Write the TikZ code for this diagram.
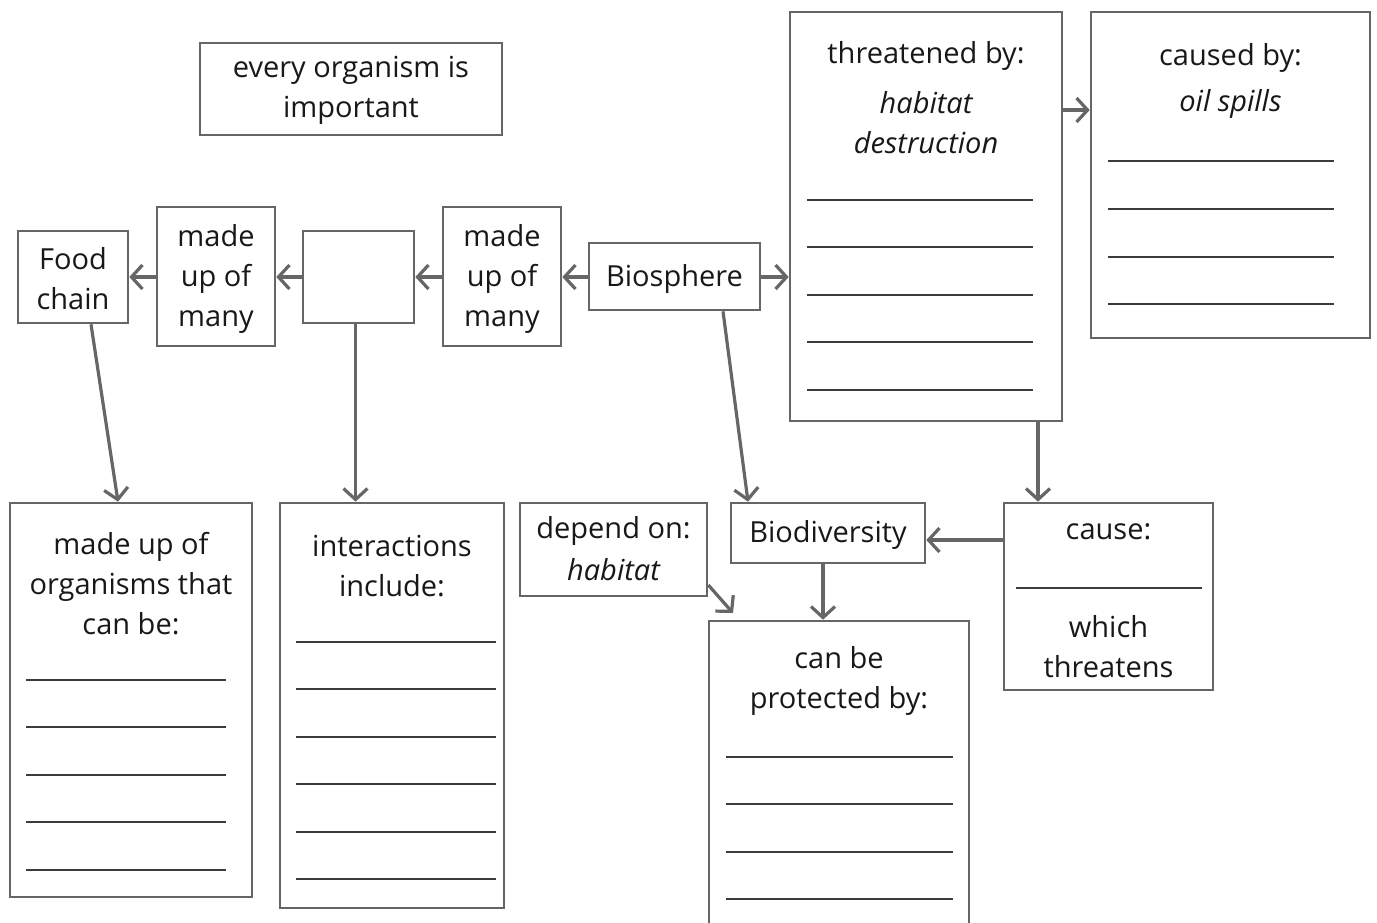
\documentclass[tikz,border=0pt]{standalone}
\usepackage{fontspec}
\setmainfont{Open Sans}
\usetikzlibrary{arrows.meta}
\definecolor{lg}{HTML}{666666}
\definecolor{tc}{HTML}{1A1718}
\begin{document}
\begin{tikzpicture}[x=1pt,y=-1pt,
  bx/.style={draw=lg, line width=2.6pt, inner sep=0pt, fill=white},
  tx/.style={text=tc, font=\fontsize{29}{40}\selectfont, align=center, inner sep=0pt},
  it/.style={tx, font=\fontsize{29}{40}\selectfont\itshape},
  wl/.style={draw=tc!85, line width=1.4pt},
  ar/.style={draw=lg, line width=3.2pt, -{Straight Barb[length=11pt,width=24pt,line width=3.2pt]}}]
\useasboundingbox (0,0) rectangle (1377,922);
% boxes
\node[bx, minimum width=302pt, minimum height=92pt] (every) at (351,89) {};
\node[bx, minimum width=110pt, minimum height=92pt] (food) at (73,277) {};
\node[bx, minimum width=118pt, minimum height=139pt] (madeL) at (216,276.5) {};
\node[bx, minimum width=111pt, minimum height=92pt] (empty) at (358.5,277) {};
\node[bx, minimum width=118pt, minimum height=139pt] (madeR) at (502,276.5) {};
\node[bx, minimum width=171pt, minimum height=67pt] (bios) at (674.5,276.5) {};
\node[bx, minimum width=272pt, minimum height=409pt] (threat) at (926,216.5) {};
\node[bx, minimum width=279pt, minimum height=326pt] (caused) at (1230.5,175) {};
\node[bx, minimum width=242pt, minimum height=394pt] (org) at (131,700) {};
\node[bx, minimum width=224pt, minimum height=405pt] (inter) at (392,705.5) {};
\node[bx, minimum width=187pt, minimum height=93pt] (depend) at (613.5,549.5) {};
\node[bx, minimum width=194pt, minimum height=60pt] (biodiv) at (828,533) {};
\node[bx, minimum width=209pt, minimum height=187pt] (cause) at (1108.5,596.5) {};
\node[bx, minimum width=260pt, minimum height=319pt] (protect) at (839,780.5) {};
% texts
\node[tx] (e1) at (351,90) {every organism is\\important};
\node[tx] (f1) at (73,279) {Food\\chain};
\node[tx] (m1) at (216,279) {made\\up of\\many};
\node[tx] (m2) at (502,279) {made\\up of\\many};
\node[tx] (b1) at (674.5,278.5) {Biosphere};
\node[tx] (g1) at (613.5,531) {depend on:};
\node[it] (g2) at (613.5,570) {habitat};
\node[tx] (bd) at (828,534.5) {Biodiversity};
\node[tx] (t1) at (926,56) {threatened by:};
\node[it] (t2) at (926,123) {habitat\\destruction};
\node[tx] (c1) at (1230.5,58) {caused by:};
\node[it] (c2) at (1230.5,104) {oil spills};
\node[tx] (o1) at (131,584) {made up of\\organisms that\\can be:};
\node[tx] (i1) at (392,566) {interactions\\include:};
\node[tx] (p1) at (839,681) {can be\\protected by:};
\node[tx] (k1) at (1108.5,532) {cause:};
\node[tx] (k2) at (1108.5,647) {which\\threatens};
% write-on lines
\foreach \y in {200,247,295,342,390} \draw[wl] (807,\y) -- (1033,\y);
\foreach \y in {161,209,257,304} \draw[wl] (1108,\y) -- (1334,\y);
\foreach \y in {680,727,775,822,870} \draw[wl] (26,\y) -- (226,\y);
\foreach \y in {642,689,737,784,832,879} \draw[wl] (296,\y) -- (496,\y);
\foreach \y in {757,804,852,899} \draw[wl] (726,\y) -- (953,\y);
\draw[wl] (1016,588) -- (1202,588);
% connectors
\coordinate (h0) at (0,277);
\coordinate (h1) at (0,540);
\coordinate (h2) at (0,110);
\coordinate (v1) at (823,0);
\coordinate (v2) at (1038,0);
\coordinate (d1) at (0,585);
\coordinate (d2) at (733,613);
\draw[ar] (bios.west |- h0) -- (madeR.east |- h0);
\draw[ar] (madeR.west |- h0) -- (empty.east |- h0);
\draw[ar] (empty.west |- h0) -- (madeL.east |- h0);
\draw[ar] (madeL.west |- h0) -- (food.east |- h0);
\draw[ar] (bios.east |- h0) -- (threat.west |- h0);
\draw[ar] (threat.east |- h2) -- (caused.west |- h2);
\draw[ar] ([xshift=18pt]food.south) -- ([xshift=-13pt]org.north);
\draw[ar] ([xshift=-3pt]empty.south) -- ([xshift=-3pt]empty.south |- inter.north);
\draw[ar] ([xshift=48.5pt]bios.south) -- ([xshift=-80pt]biodiv.north);
\draw[ar] (threat.south -| v2) -- (cause.north -| v2);
\draw[ar] (cause.west |- h1) -- (biodiv.east |- h1);
\draw[ar] (biodiv.south -| v1) -- (protect.north -| v1);
\draw[ar] (depend.east |- d1) -- (d2);
\end{tikzpicture}
\end{document}
